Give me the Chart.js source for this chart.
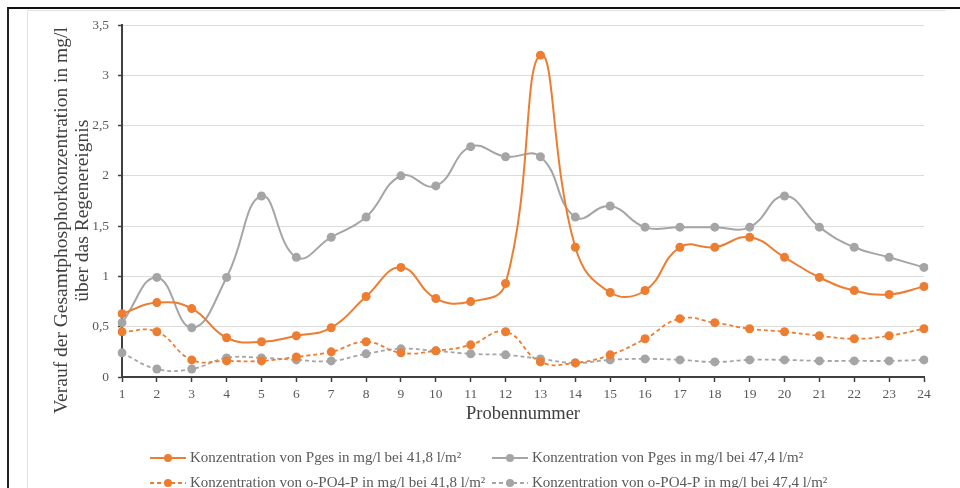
<!DOCTYPE html>
<html>
<head>
<meta charset="utf-8">
<script src="https://cdn.jsdelivr.net/npm/chart.js@4.4.1/dist/chart.umd.min.js"></script>
<style>
  body { margin: 0; background: #fff; }
  #wrap { position: relative; width: 960px; height: 488px; overflow: hidden; }
  #outer { position: absolute; left: 7px; top: 7px; width: 960px; height: 490px; border-top: 2px solid #111; border-left: 2px solid #222; }
  #inner { position: absolute; left: 27px; top: 10px; width: 918px; height: 480px; border-top: 1px solid #e2e2e2; border-left: 1px solid #e2e2e2; }
  canvas { position: absolute; left: 0; top: 0; }
</style>
</head>
<body>
<div id="wrap">
  <div id="outer"></div>
  <div id="inner"></div>
  <canvas id="myChart" width="960" height="488"></canvas>
</div>
<script>
const probes = ['1','2','3','4','5','6','7','8','9','10','11','12','13','14','15','16','17','18','19','20','21','22','23','24'];
const pges418 = [0.63,0.74,0.68,0.39,0.35,0.41,0.49,0.80,1.09,0.78,0.75,0.93,3.2,1.29,0.84,0.86,1.29,1.29,1.39,1.19,0.99,0.86,0.82,0.90];
const pges474 = [0.54,0.99,0.49,0.99,1.8,1.19,1.39,1.59,2.0,1.9,2.29,2.19,2.19,1.59,1.7,1.49,1.49,1.49,1.49,1.8,1.49,1.29,1.19,1.09];
const opo418 = [0.45,0.45,0.17,0.16,0.16,0.20,0.25,0.35,0.24,0.26,0.32,0.45,0.15,0.14,0.22,0.38,0.58,0.54,0.48,0.45,0.41,0.38,0.41,0.48];
const opo474 = [0.24,0.08,0.08,0.19,0.19,0.17,0.16,0.23,0.28,0.26,0.23,0.22,0.18,0.14,0.17,0.18,0.17,0.15,0.17,0.17,0.16,0.16,0.16,0.17];
const seriesLabels = [
  'Konzentration von Pges in mg/l bei 41,8 l/m²',
  'Konzentration von Pges in mg/l bei 47,4 l/m²',
  'Konzentration von o-PO4-P in mg/l bei 41,8 l/m²',
  'Konzentration von o-PO4-P in mg/l bei 47,4 l/m²'
];

const orange = '#ED7D31';
const grey = '#A5A5A5';
const serif = "'Liberation Serif', 'Times New Roman', serif";
const nb = '\u00a0';

function lineSet(label, values, color, dash, order){
    return {
        label: label,
        data: values,
        borderColor: color,
        backgroundColor: color,
        borderWidth: dash.length ? 1.8 : 2,
        borderDash: dash,
        pointRadius: 4.5,
        pointHoverRadius: 4.5,
        pointBorderWidth: 0,
        tension: 0.45,
        fill: false,
        order: order
    };
}

// legend drawn below the axis title in two columns
const legendGrid = {
    id: 'legendGrid',
    afterDraw(chart){
        const ctx = chart.ctx;
        const cols = [150, 492];
        const rows = [458, 483];
        ctx.save();
        ctx.font = '15px ' + serif;
        ctx.textBaseline = 'middle';
        chart.data.datasets.forEach((ds, i) => {
            const x = cols[i % 2];
            const y = rows[Math.floor(i / 2)];
            ctx.strokeStyle = ds.borderColor;
            ctx.lineWidth = 2;
            ctx.setLineDash(ds.borderDash);
            ctx.beginPath();
            ctx.moveTo(x, y);
            ctx.lineTo(x + 36, y);
            ctx.stroke();
            ctx.setLineDash([]);
            ctx.fillStyle = ds.borderColor;
            ctx.beginPath();
            ctx.arc(x + 18, y, 4, 0, Math.PI * 2);
            ctx.fill();
            ctx.fillStyle = '#595959';
            ctx.fillText(ds.label, x + 40, y);
        });
        ctx.restore();
    }
};

const ctx = document.getElementById('myChart').getContext('2d');
const myChart = new Chart(ctx, {
    type: 'line',
    data: {
        labels: probes,
        datasets: [
            lineSet(seriesLabels[0], pges418, orange, [], 1),
            lineSet(seriesLabels[1], pges474, grey, [], 2),
            lineSet(seriesLabels[2], opo418, orange, [4, 3], 3),
            lineSet(seriesLabels[3], opo474, grey, [4, 3], 4)
        ]
    },
    options: {
        responsive: false,
        animation: false,
        layout: { padding: { left: 50, right: 36, top: 25, bottom: 60 } },
        plugins: {
            legend: { display: false },
            tooltip: { enabled: false }
        },
        scales: {
            x: {
                offset: false,
                grid: { drawOnChartArea: false, tickLength: 5, tickColor: '#404040', tickWidth: 1.5 },
                border: { color: '#404040', width: 2 },
                ticks: { color: '#595959', font: { family: serif, size: 13.5 }, padding: 4, maxRotation: 0, autoSkip: false },
                title: { display: true, text: 'Probennummer', color: '#404040', font: { family: serif, size: 18.5 }, padding: { top: 0, bottom: 3 } },
                afterFit: scale => { scale.height = 51; }
            },
            y: {
                min: 0,
                max: 3.5,
                grid: { color: '#dcdcdc', lineWidth: 1, tickLength: 4, tickColor: '#404040', tickWidth: 1.5 },
                border: { color: '#404040', width: 2 },
                ticks: {
                    stepSize: 0.5,
                    color: '#595959',
                    font: { family: serif, size: 13.5 },
                    padding: 9,
                    callback: v => String(v).replace('.', ',')
                },
                title: {
                    display: true,
                    text: ['Verauf der Gesamtphosphorkonzentration in mg/l' + nb.repeat(8), 'über das Regenereignis' + nb.repeat(4)],
                    color: '#404040',
                    font: { family: serif, size: 19.5, lineHeight: 1.05 },
                    padding: { top: 2, bottom: 0 }
                },
                afterFit: scale => { scale.width = 72; }
            }
        }
    },
    plugins: [legendGrid]
});
</script>
</body>
</html>
